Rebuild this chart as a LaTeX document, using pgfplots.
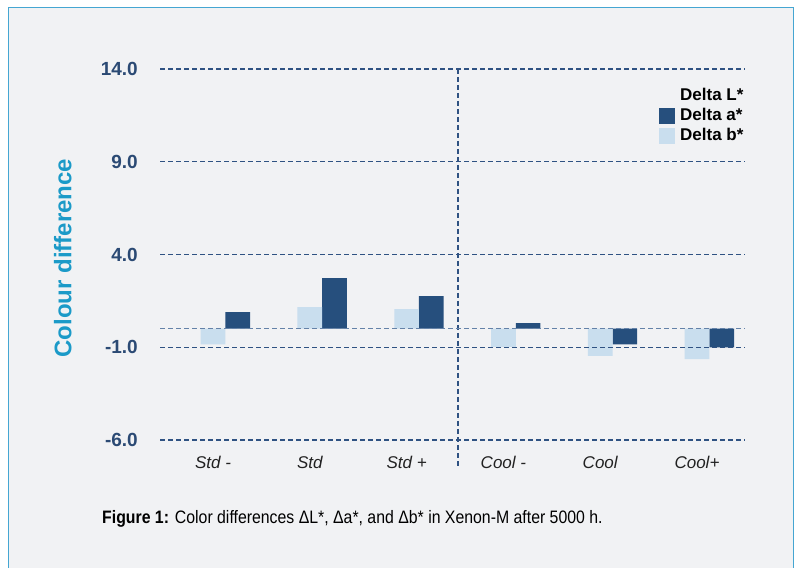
\documentclass[border=0pt]{standalone}
\usepackage{fontspec}
\setmainfont{Liberation Sans}
\newfontfamily\capfont[FakeStretch=0.88]{Liberation Sans}
\usepackage{pgfplots}
\pgfplotsset{compat=1.18}
\definecolor{panelbg}{HTML}{F1F2F4}
\definecolor{bordercol}{HTML}{45A6D2}
\definecolor{gridcol}{HTML}{2F5282}
\definecolor{zerocol}{HTML}{6482A8}
\definecolor{darkbar}{HTML}{264F7D}
\definecolor{lightbar}{HTML}{C9DEEE}
\definecolor{ticktext}{HTML}{2B4A74}
\definecolor{ylabcol}{HTML}{1B9AC8}
\definecolor{xtext}{HTML}{222222}
\begin{document}
\begin{tikzpicture}
\useasboundingbox (0pt,0pt) rectangle (799pt,567pt);
\fill[white] (0pt,0pt) rectangle (799pt,567pt);
\filldraw[fill=panelbg, draw=bordercol, line width=1.6pt] (8.5pt,-10pt) rectangle (793.5pt,559.5pt);
\begin{axis}[
  at={(160pt,127pt)}, anchor=south west,
  scale only axis, width=585pt, height=371pt,
  xmin=-0.548, xmax=5.496, ymin=-6, ymax=14,
  clip=false,
  axis on top=true,
  axis line style={draw=none},
  major tick length=0pt,
  tick style={draw=none},
  ytick={-6,-1,4,9,14},
  yticklabels={-6.0,-1.0,4.0,9.0,14.0},
  yticklabel style={font=\bfseries\fontsize{19}{21}\selectfont, text=ticktext, anchor=east, inner sep=0pt, xshift=-22pt},
  xtick={0,1,2,3,4,5},
  xticklabels={Std -, Std, Std +, Cool -, Cool, Cool+},
  xticklabel style={font=\itshape\fontsize{17}{20}\selectfont, text=xtext, anchor=north, inner sep=0pt, yshift=-16pt},
  ymajorgrids=true, xmajorgrids=false,
  grid style={color=gridcol, line width=1.35pt, dash pattern=on 5pt off 3pt},
  extra y ticks={0},
  extra y tick labels={},
  extra y tick style={grid style={color=zerocol, line width=1.6pt, dash pattern=on 5pt off 3pt}},
  ylabel={Colour difference},
  ylabel style={at={(axis description cs:-0.166,0.49)}, anchor=center, font=\bfseries\fontsize{24}{28}\selectfont, text=ylabcol},
  legend style={at={(0.853,0.951)}, anchor=north west, draw=none, fill=none,
    font=\bfseries\fontsize{17}{20}\selectfont, text=black, inner sep=0pt, row sep=3pt,
    column sep=5pt,
    nodes={inner sep=0pt, text height=13pt, text depth=4pt}},
  legend cell align=left,
]
\addlegendimage{legend image code/.code={}}
\addlegendentry{Delta L*}
\addplot[ybar, bar width=0.255, bar shift=0pt, fill=darkbar, draw=none,
  legend image code/.code={\fill[darkbar] (0pt,-8pt) rectangle (16pt,8pt);}]
  coordinates {(0.255,0.90) (1.255,2.72) (2.255,1.75) (3.255,0.30) (4.255,-0.84) (5.255,-1.01)};
\addlegendentry{Delta a*}
\addplot[ybar, bar width=0.255, bar shift=0pt, fill=lightbar, draw=none,
  legend image code/.code={\fill[lightbar] (0pt,-8pt) rectangle (16pt,8pt);}]
  coordinates {(0,-0.84) (1,1.16) (2,1.05) (3,-0.98) (4,-1.47) (5,-1.64)};
\addlegendentry{Delta b*}
\draw[color=gridcol, line width=1.35pt, dash pattern=on 5pt off 3pt] (axis cs:2.53,14) -- (axis cs:2.53,-7.5);
\end{axis}
\node[anchor=base west, inner sep=0pt] at (102pt,44pt) {\capfont\fontsize{18}{21}\selectfont\textbf{Figure 1:} Color differences ΔL*, Δa*, and Δb* in Xenon-M after 5000 h.};
\end{tikzpicture}
\end{document}
